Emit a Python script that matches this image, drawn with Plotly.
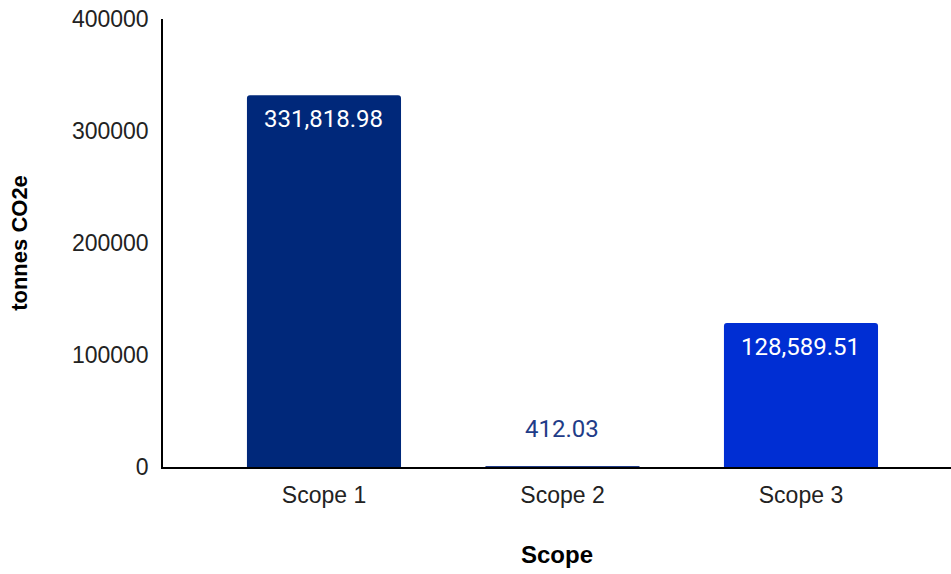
import plotly.graph_objects as go

# Emissions by scope (tonnes CO2e)
scopes = ["Scope 1", "Scope 2", "Scope 3"]
emissions = [331818.98, 412.03, 128589.51]
bar_colors = ["#00287a", "#1f3c88", "#002ed3"]
label_colors = ["#ffffff", "#1f3c88", "#ffffff"]
y_ticks = [0, 100000, 200000, 300000, 400000]

fig = go.Figure()
fig.add_trace(go.Bar(
    x=scopes,
    y=emissions,
    marker=dict(color=bar_colors, line=dict(width=0)),
    width=0.646,
    hoverinfo="x+y",
))

# value labels: inside the top of tall bars, above the small one
for s, v, c in zip(scopes, emissions, label_colors):
    inside = c == "#ffffff"
    fig.add_annotation(
        x=s, y=v, text=f"{v:,.2f}", showarrow=False,
        yanchor="top" if inside else "bottom",
        yshift=-8 if inside else 22,
        font=dict(family="Roboto", size=24, color=c),
    )

fig.update_layout(
    width=951, height=574,
    margin=dict(l=163, r=0, t=19, b=107),
    paper_bgcolor="white", plot_bgcolor="white",
    barcornerradius=3,
    showlegend=False,
    font=dict(family="Liberation Sans, Arial", color="#222222"),
)
fig.update_xaxes(
    range=[-0.675, 2.629],
    showgrid=False, showline=True, linecolor="#000000", linewidth=2,
    ticks="", tickfont=dict(size=23, color="#222222"), ticklabelstandoff=6,
    title=dict(text="<b>Scope</b>", font=dict(size=24, color="#000000"), standoff=40),
)
fig.update_yaxes(
    range=[0, 400000], tickvals=y_ticks, ticktext=[str(t) for t in y_ticks],
    showgrid=False, showline=True, linecolor="#000000", linewidth=1.5,
    ticks="", ticklen=0, tickfont=dict(size=23, color="#222222"), ticklabelstandoff=8,
    title=dict(text="<b>tonnes CO2e</b>", font=dict(size=22, color="#000000"), standoff=38),
    zeroline=False,
)

fig.write_html("out.html")
